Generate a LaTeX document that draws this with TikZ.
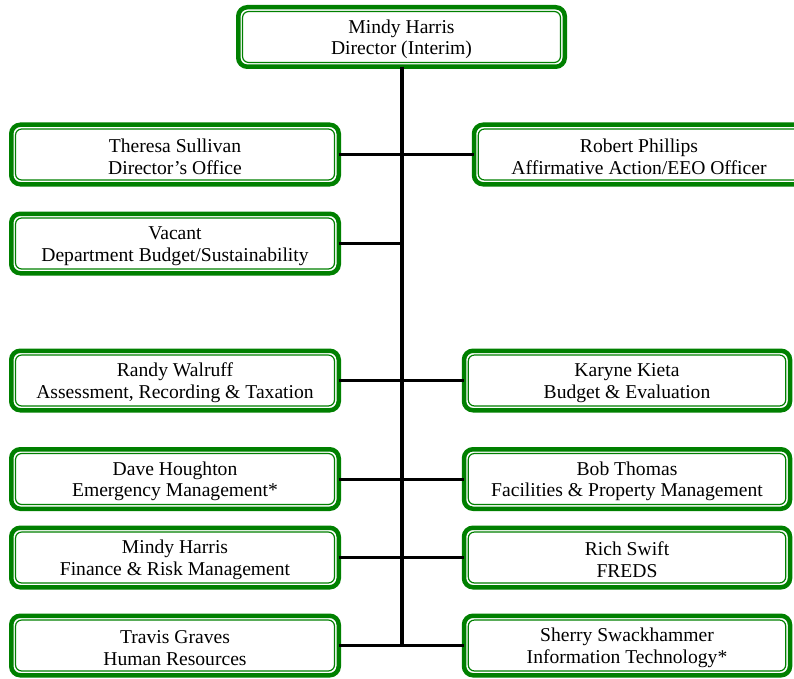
\documentclass[tikz,border=0pt]{standalone}
\usepackage{fontspec}
\setmainfont{Liberation Serif}
\definecolor{ogreen}{RGB}{0,128,0}
\begin{document}
\begin{tikzpicture}[x=1pt,y=-1pt,
  box/.style={draw=ogreen, line width=4.5pt, rounded corners=9pt, fill=white,
    align=center, inner sep=0pt, outer sep=0pt, minimum height=59.5pt,
    text height=39.5pt,
    font=\fontsize{19.6}{21.5}\selectfont},
  inner/.style={draw=ogreen, line width=1.2pt, rounded corners=6pt},
  link/.style={draw=black, line width=3pt},
  trunk/.style={draw=black, line width=4pt}]
\useasboundingbox (0,0) rectangle (794,679);
\begin{scope}
\clip (0,0) rectangle (794,679);
\node[box, minimum width=326.5pt] (top) at (401.5,37) {Mindy Harris\\Director (Interim)};
\node[box, minimum width=327.5pt] (ts) at (175,154.5) {Theresa Sullivan\\Director’s Office};
\node[box, minimum width=330pt] (rp) at (639,154.5) {Robert Phillips\\Affirmative Action/EEO Officer};
\node[box, minimum width=327.5pt] (va) at (175,243.5) {Vacant\\Department Budget/Sustainability};
\node[box, minimum width=327.5pt] (rw) at (175,380.5) {Randy Walruff\\Assessment, Recording \& Taxation};
\node[box, minimum width=326pt] (kk) at (627,380.5) {Karyne Kieta\\Budget \& Evaluation};
\node[box, minimum width=327.5pt] (dh) at (175,479) {Dave Houghton\\Emergency Management*};
\node[box, minimum width=326pt] (bt) at (627,479) {Bob Thomas\\Facilities \& Property Management};
\node[box, minimum width=327.5pt] (mh) at (175,557.5) {Mindy Harris\\Finance \& Risk Management};
\node[box, minimum width=326pt] (rs) at (627,557.5) {Rich Swift\\FREDS};
\node[box, minimum width=327.5pt] (tg) at (175,645.5) {Travis Graves\\Human Resources};
\node[box, minimum width=326pt] (ss) at (627,645.5) {Sherry Swackhammer\\Information Technology*};
\foreach \n in {top,ts,rp,va,rw,kk,dh,bt,mh,rs,tg,ss}
  \draw[inner] ([shift={(4.3,4.3)}]\n.north west) rectangle ([shift={(-4.3,-4.3)}]\n.south east);
\end{scope}
\coordinate (jv) at (401.5,243.5);
\coordinate (bot) at (401.5,645.5);
\draw[trunk] (top.south) -- (bot);
\draw[link] (ts.east) -- (rp.west);
\draw[link] (va.east) -- (jv);
\draw[link] (rw.east) -- (kk.west);
\draw[link] (dh.east) -- (bt.west);
\draw[link] (mh.east) -- (rs.west);
\draw[link] (tg.east) -- (ss.west);
\end{tikzpicture}
\end{document}
